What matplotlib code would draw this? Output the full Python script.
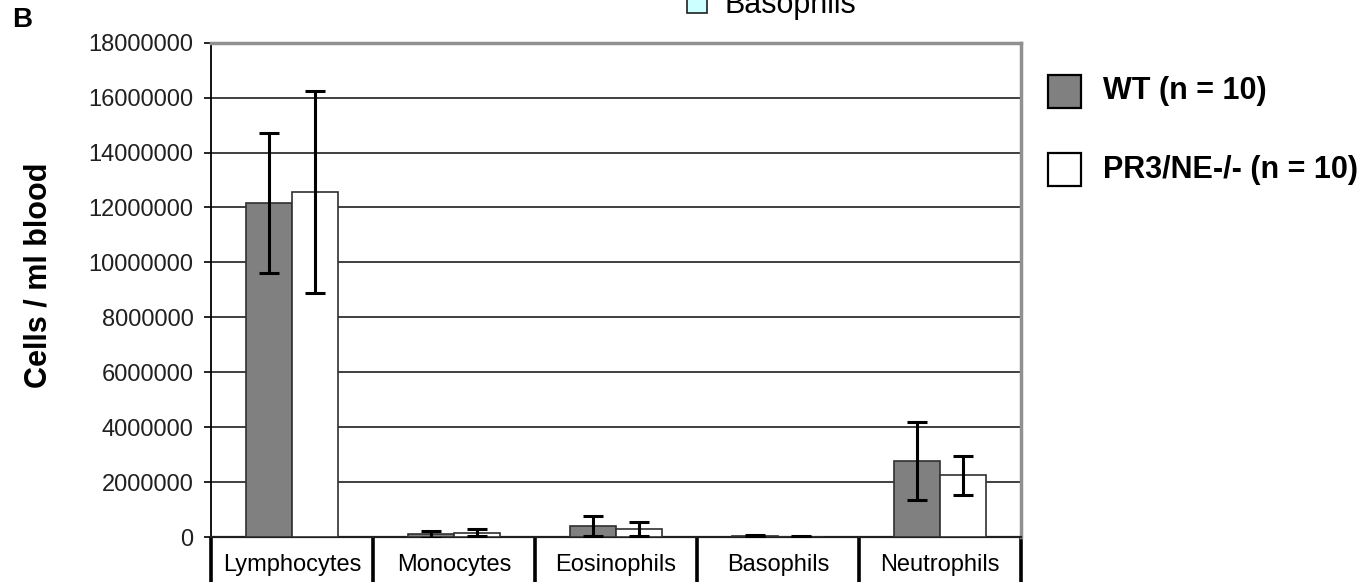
import numpy as np
import matplotlib
matplotlib.use("Agg")
import matplotlib.pyplot as plt
from matplotlib.patches import Rectangle

plt.rcParams['font.family'] = ['Liberation Sans', 'DejaVu Sans']

categories = ["Lymphocytes", "Monocytes", "Eosinophils", "Basophils", "Neutrophils"]
series_names = ["WT (n = 10)", "PR3/NE-/- (n = 10)"]
wt_values = [12150000, 100000, 400000, 30000, 2770000]
wt_errors = [2550000, 130000, 350000, 30000, 1430000]
ko_values = [12550000, 160000, 300000, 10000, 2240000]
ko_errors = [3680000, 130000, 260000, 10000, 720000]
y_ticks = [0, 2000000, 4000000, 6000000, 8000000, 10000000, 12000000,
           14000000, 16000000, 18000000]
colors = ["#808080", "#FFFFFF"]

W, H = 1372, 582
fig = plt.figure(figsize=(W / 100, H / 100), dpi=100)
ax_l, ax_r, ax_t, ax_b = 211, 1021, 42.7, 537
ax = fig.add_axes([ax_l / W, 1 - ax_b / H, (ax_r - ax_l) / W, (ax_b - ax_t) / H])

x = np.arange(len(categories))
w = 0.287
err_kw = dict(ecolor="black", elinewidth=2.2, capsize=7.5, capthick=2.2)
ax.bar(x - w / 2, wt_values, w, color=colors[0], edgecolor="#303030",
       linewidth=1.2, yerr=wt_errors, error_kw=err_kw, zorder=3)
ax.bar(x + w / 2, ko_values, w, color=colors[1], edgecolor="#303030",
       linewidth=1.2, yerr=ko_errors, error_kw=err_kw, zorder=3)

ax.set_xlim(-0.5, len(categories) - 0.5)
ax.set_ylim(0, 18000000)
ax.set_yticks(y_ticks)
ax.set_yticklabels([str(v) for v in y_ticks], fontsize=17, color="#202020")
ax.tick_params(axis="y", direction="out", length=5, width=1.2, pad=7.5)
ax.set_xticks(x)
ax.set_xticklabels(categories, fontsize=17)
ax.tick_params(axis="x", length=0, pad=12)
ax.yaxis.grid(True, color="#303030", linewidth=1.3, zorder=0)
ax.set_axisbelow(True)

ax.spines["top"].set_color("#909090")
ax.spines["top"].set_linewidth(2.5)
ax.spines["right"].set_color("#909090")
ax.spines["right"].set_linewidth(2.5)
ax.spines["left"].set_color("black")
ax.spines["left"].set_linewidth(1.3)
ax.spines["bottom"].set_color("#202020")
ax.spines["bottom"].set_linewidth(1.6)

# category table separators below the axis
trans = ax.get_xaxis_transform()
for b in np.arange(len(categories) + 1) - 0.5:
    ax.plot([b, b], [0, -0.12], transform=trans, color="black",
            linewidth=2.6, clip_on=False, solid_capstyle="butt")

# y label
fig.text(39 / W, 1 - 275 / H, "Cells / ml blood", rotation=90, fontsize=22,
         fontweight="bold", ha="center", va="center")

# panel letter
fig.text(12 / W, 1 - 20 / H, "B", fontsize=20, fontweight="bold",
         ha="left", va="center")

# legend (manual)
leg_y = [91.5, 169.5]
for name, col, yc in zip(series_names, colors, leg_y):
    fig.patches.append(Rectangle((1048 / W, 1 - (yc + 16.5) / H), 33 / W, 33 / H,
                                 transform=fig.transFigure, facecolor=col,
                                 edgecolor="black", linewidth=1.6))
    fig.text(1103 / W, 1 - yc / H, name, fontsize=22, fontweight="bold",
             ha="left", va="center")

# clipped stray legend entry at top (cut off in the original figure)
fig.patches.append(Rectangle((687 / W, 1 - 12.7 / H), 20 / W, 20 / H,
                             transform=fig.transFigure, facecolor="#CCFFFF",
                             edgecolor="#202020", linewidth=1.2))
fig.text(724 / W, 1 - 13 / H, "Basophils", fontsize=22, ha="left",
         va="baseline")

fig.savefig("out.png", dpi=100)
